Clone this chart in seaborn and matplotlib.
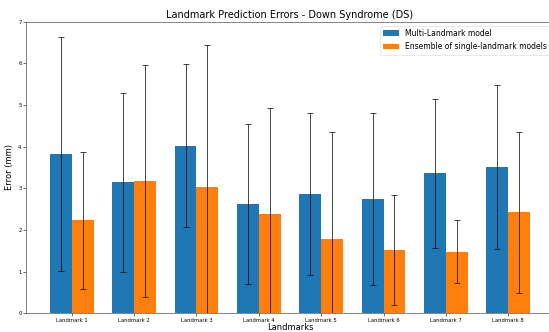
import numpy as np
import pandas as pd
import matplotlib
matplotlib.use("Agg")
import matplotlib.pyplot as plt
import seaborn as sns

landmarks = ["Landmark 1", "Landmark 2", "Landmark 3", "Landmark 4",
             "Landmark 5", "Landmark 6", "Landmark 7", "Landmark 8"]
models = ["Multi-Landmark model", "Ensemble of single-landmark models"]
multi_mean = [3.82, 3.15, 4.02, 2.62, 2.86, 2.74, 3.36, 3.51]
multi_std = [2.81, 2.15, 1.96, 1.92, 1.94, 2.06, 1.79, 1.96]
ens_mean = [2.23, 3.18, 3.04, 2.39, 1.78, 1.51, 1.48, 2.42]
ens_std = [1.64, 2.78, 3.39, 2.55, 2.57, 1.32, 0.76, 1.93]

df = pd.DataFrame({
    "Landmark": landmarks * 2,
    "Model": [models[0]] * len(landmarks) + [models[1]] * len(landmarks),
    "Error": multi_mean + ens_mean,
    "Std": multi_std + ens_std,
})

fig = plt.figure(figsize=(5.49, 3.32), dpi=100)
ax = fig.add_axes([26 / 549, (332 - 313.3) / 332, (554 - 26) / 549, (313.3 - 21.7) / 332])

sns.barplot(data=df, x="Landmark", y="Error", hue="Model", hue_order=models,
            palette=["#1f77b4", "#ff7f0e"], saturation=1, width=0.7,
            errorbar=None, ax=ax, linewidth=0)

# error bars at bar centres
bars = [p for p in ax.patches if p.get_height() > 0 and p.get_width() < 1]
stds = multi_std + ens_std
for p, s in zip(bars, stds):
    cx = p.get_x() + p.get_width() / 2
    ax.errorbar(cx, p.get_height(), yerr=s, ecolor="black", fmt="none",
                elinewidth=0.6, capsize=2.5, capthick=0.6, alpha=0.85)

ax.set_ylim(0, 7)
ax.set_xlim(-0.735, 7.735)
ax.set_title("Landmark Prediction Errors - Down Syndrome (DS)", fontsize=7, pad=3)
ax.set_xlabel("Landmarks", fontsize=6, labelpad=0)
ax.set_ylabel("Error (mm)", fontsize=6, labelpad=3)
ax.tick_params(axis="both", labelsize=3.8, width=0.4, length=2, pad=1.2)
for sp in ax.spines.values():
    sp.set_linewidth(0.5)
    sp.set_color("#555555")

leg = ax.legend(loc="upper right", fontsize=5.5, frameon=True, title=None,
                handlelength=2.0, handleheight=0.75, borderpad=0.45,
                labelspacing=0.55, handletextpad=0.8)
leg.get_frame().set_linewidth(0.4)

fig.savefig("out.png", dpi=100)
